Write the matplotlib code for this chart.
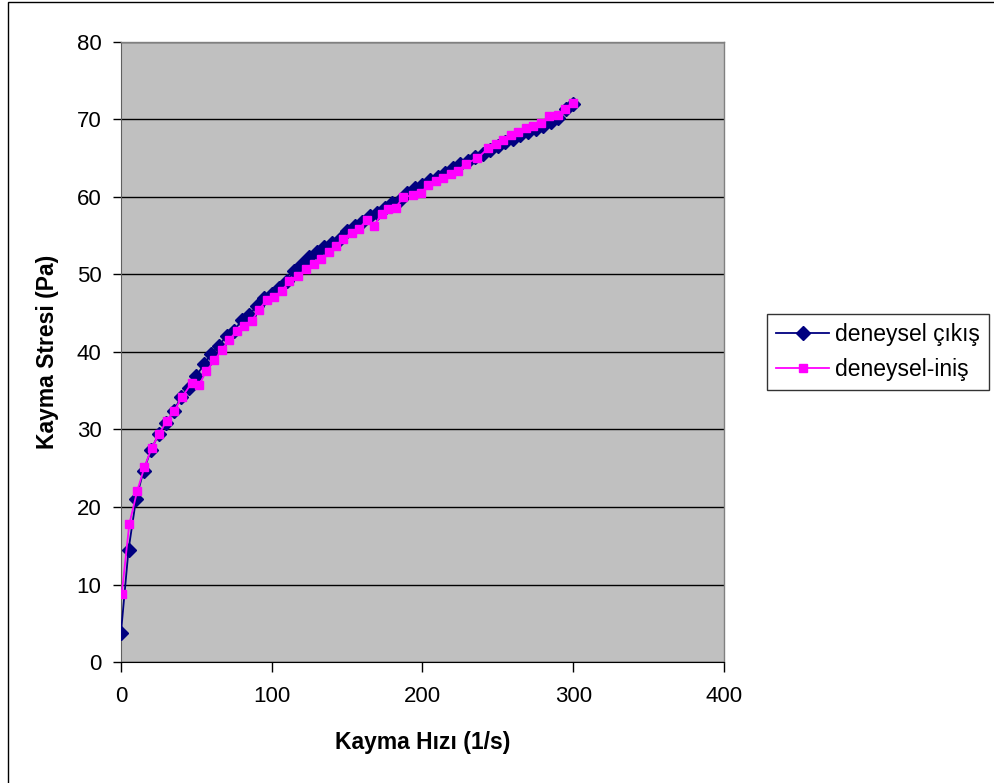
import matplotlib.pyplot as plt
from matplotlib.patches import Rectangle

plt.rcParams["font.family"] = ["Liberation Sans", "DejaVu Sans"]

# deneysel çıkış (artan kayma hızı)
shear_up = [0, 5, 10, 15, 20, 25, 30, 35, 40, 45, 50, 55, 60, 65, 70, 75, 80, 85, 90, 95,
            100, 105, 110, 115, 120, 125, 130, 135, 140, 145, 150, 155, 160, 165, 170, 175,
            180, 185, 190, 195, 200, 205, 210, 215, 220, 225, 230, 235, 240, 245, 250, 255,
            260, 265, 270, 275, 280, 285, 290, 295, 300]
stress_up = [3.8, 14.5, 21.0, 24.7, 27.4, 29.4, 30.8, 32.4, 34.2, 35.4, 36.9, 38.4, 39.8, 40.8,
             42.1, 42.7, 44.1, 44.8, 45.9, 46.9, 47.5, 48.3, 49.2, 50.4, 51.3, 52.2, 52.9, 53.5,
             54.1, 54.6, 55.6, 56.2, 56.8, 57.5, 57.9, 58.6, 59.2, 59.6, 60.5, 61.2, 61.5, 62.2,
             62.6, 63.1, 63.7, 64.2, 64.6, 65.2, 65.6, 66.1, 66.6, 67.1, 67.5, 68.0, 68.4, 68.8,
             69.2, 69.7, 70.2, 71.3, 72.0]

# deneysel-iniş (azalan kayma hızı)
shear_down = [0.5, 5.5, 10.8, 15.5, 20.3, 25.2, 30.2, 35.3, 40.6, 46.9, 51.8, 56.4, 62.0, 66.8,
              71.6, 76.8, 81.8, 86.7, 91.3, 96.6, 101.7, 106.6, 111.7, 117.6, 122.7, 127.8,
              132.7, 138.0, 142.6, 147.5, 153.0, 157.9, 163.0, 167.8, 172.9, 177.3, 182.2,
              187.3, 193.5, 198.8, 203.9, 208.7, 213.8, 218.7, 223.8, 228.9, 236.5, 243.7,
              248.5, 253.6, 258.7, 263.6, 268.5, 273.5, 278.6, 283.9, 289.7, 294.5, 299.6]
stress_down = [8.8, 17.8, 22.1, 25.1, 27.6, 29.4, 31.1, 32.4, 34.2, 36.0, 35.7, 37.5, 38.9, 40.3,
               41.5, 42.7, 43.3, 44.0, 45.4, 46.7, 47.1, 47.9, 49.1, 49.8, 50.7, 51.4, 52.0,
               52.9, 53.7, 54.6, 55.4, 55.9, 57.0, 56.3, 57.8, 58.4, 58.6, 60.0, 60.2, 60.5,
               61.5, 62.0, 62.4, 63.0, 63.4, 64.3, 65.0, 66.3, 66.8, 67.4, 68.0, 68.4, 68.9,
               69.2, 69.6, 70.4, 70.6, 71.4, 72.1]

fig = plt.figure(figsize=(9.95, 7.83), dpi=100)
ax = fig.add_axes([0.1216, 0.1545, 0.606, 0.792])
ax.set_facecolor("#c0c0c0")

ax.plot(shear_up, stress_up, color="#000080", marker="D", markersize=7.5, linewidth=1.3,
        label="deneysel çıkış", zorder=3)
ax.plot(shear_down, stress_down, color="#ff00ff", marker="s", markersize=5.5, linewidth=1.3,
        label="deneysel-iniş", zorder=4)

ax.set_xlim(0, 400)
ax.set_ylim(0, 80)
ax.set_xticks([0, 100, 200, 300, 400])
ax.set_yticks(range(0, 90, 10))
ax.yaxis.grid(True, color="black", linewidth=1.0)
ax.set_axisbelow(True)

for side in ["top", "right"]:
    ax.spines[side].set_color("#808080")
    ax.spines[side].set_linewidth(1.0)
ax.spines["left"].set_color("#606060")
ax.spines["bottom"].set_color("black")

ax.tick_params(axis="y", direction="out", length=6, width=1, pad=8, labelsize=16)
ax.tick_params(axis="x", direction="out", length=7, width=1, pad=10, labelsize=16)

ax.set_xlabel("Kayma Hızı (1/s)", fontsize=16.5, fontweight="bold")
ax.set_ylabel("Kayma Stresi (Pa)", fontsize=16.5, fontweight="bold")
ax.xaxis.set_label_coords(0.5008, -0.129)
ax.yaxis.set_label_coords(-0.1227, 0.5)
ax.xaxis.label.set_va("center")
ax.yaxis.label.set_va("center")

leg = ax.legend(loc="center left", bbox_to_anchor=(767 / 995, 1 - 352 / 783),
                bbox_transform=fig.transFigure, fontsize=16.5, frameon=True, fancybox=False,
                edgecolor="black", handlelength=2.3, handletextpad=0.25, borderpad=0.4,
                labelspacing=0.5, borderaxespad=0)
leg.get_frame().set_linewidth(1.0)

# outer chart frame
fig.patches.append(Rectangle((8 / 995, -0.1), 1.2, 1.1 - 2.5 / 783, transform=fig.transFigure,
                             fill=False, edgecolor="black", linewidth=1.0))

fig.savefig("out.png", dpi=100)
